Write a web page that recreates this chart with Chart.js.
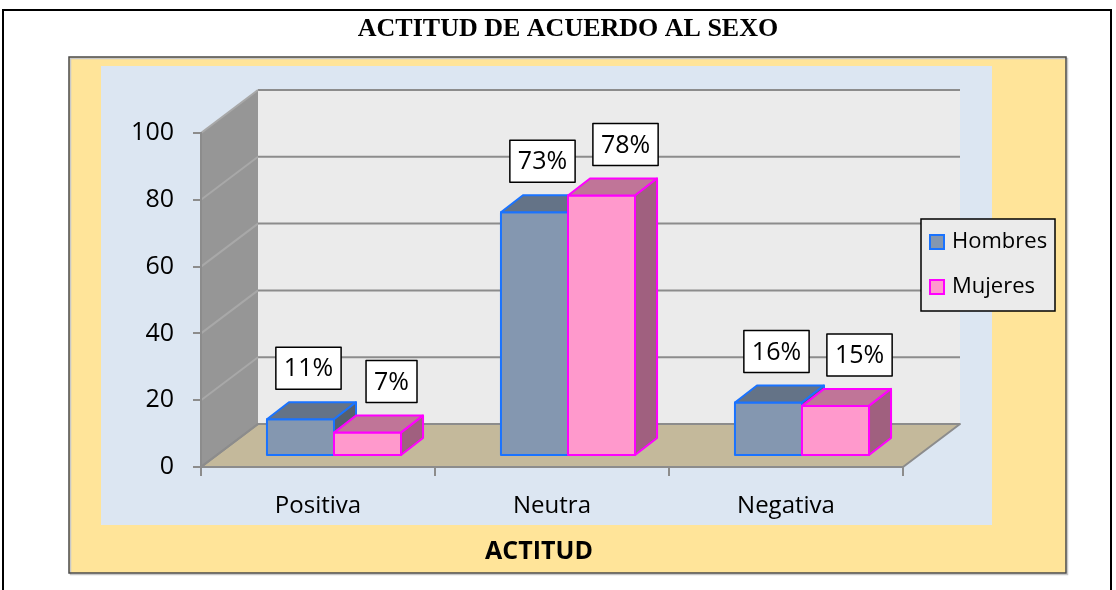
<!DOCTYPE html>
<html>
<head>
<meta charset="utf-8">
<title>Actitud de acuerdo al sexo</title>
<script src="https://cdn.jsdelivr.net/npm/chart.js@4/dist/chart.umd.min.js"></script>
<style>
    html, body { margin: 0; padding: 0; background: #ffffff; }
    canvas { display: block; }
</style>
</head>
<body>
<canvas id="actitudChart" width="1116" height="590"></canvas>
<script>
const categories = ['Positiva', 'Neutra', 'Negativa'];
const hombres = [11, 73, 16];
const mujeres = [7, 78, 15];
const seriesNames = ['Hombres', 'Mujeres'];
const yMin = 0;
const yMax = 100;
const yStep = 20;
const chartTitle = 'ACTITUD DE ACUERDO AL SEXO';
const axisTitle = 'ACTITUD';

const FONT = "'Open Sans', 'Noto Sans', sans-serif";

// 3D look: walls sit behind the front plane, bars sit in between
const WALL_DX = 57, WALL_DY = -43;
const BAR_SHIFT_X = 16, BAR_SHIFT_Y = -11;
const BAR_DX = 22, BAR_DY = -17;

const barStyles = [
    { front: '#8497b0', top: '#647387', side: '#56606f', edge: '#1a73ff', labelOffset: 8 },
    { front: '#ff99cc', top: '#c07598', side: '#a0607f', edge: '#ff00ff', labelOffset: 24 }
];

function poly(ctx, pts, fill, stroke, width) {
    ctx.beginPath();
    ctx.moveTo(pts[0][0], pts[0][1]);
    for (let i = 1; i < pts.length; i++) ctx.lineTo(pts[i][0], pts[i][1]);
    ctx.closePath();
    if (fill) {
        ctx.fillStyle = fill;
        ctx.fill();
    }
    if (stroke) {
        ctx.strokeStyle = stroke;
        ctx.lineWidth = width || 1;
        ctx.lineJoin = 'round';
        ctx.stroke();
    }
}

const backgroundPlugin = {
    id: 'background3d',
    beforeDraw(chart) {
        const ctx = chart.ctx;
        const area = chart.chartArea;
        const yScale = chart.scales.y;
        ctx.save();

        // page, outer frame, yellow chart area, blue plot area
        ctx.fillStyle = '#ffffff';
        ctx.fillRect(0, 0, chart.width, chart.height);
        ctx.strokeStyle = '#000000';
        ctx.lineWidth = 2;
        ctx.beginPath();
        ctx.moveTo(3, 600);
        ctx.lineTo(3, 10);
        ctx.lineTo(1111, 10);
        ctx.lineTo(1111, 600);
        ctx.stroke();

        ctx.fillStyle = '#ffe499';
        ctx.fillRect(69, 57, 997, 516);
        ctx.strokeStyle = '#c8c8c8';
        ctx.lineWidth = 1.5;
        ctx.strokeRect(70.5, 58.5, 997, 516);
        ctx.strokeStyle = '#4a4a4a';
        ctx.lineWidth = 1.5;
        ctx.strokeRect(69, 57, 997, 516);

        ctx.fillStyle = '#dce6f2';
        ctx.fillRect(101, 66, 891, 459);

        // title
        ctx.fillStyle = '#000000';
        ctx.font = "bold 26px 'Liberation Serif', 'Times New Roman', serif";
        ctx.textAlign = 'center';
        ctx.textBaseline = 'middle';
        ctx.fillText(chartTitle, 568, 29);

        const top = yScale.getPixelForValue(yMax);
        const bottom = yScale.getPixelForValue(yMin);

        // back wall
        ctx.fillStyle = '#ebebeb';
        ctx.fillRect(area.left + WALL_DX, top + WALL_DY, area.right - area.left, bottom - top);

        // side wall
        poly(ctx, [
            [area.left, top],
            [area.left + WALL_DX, top + WALL_DY],
            [area.left + WALL_DX, bottom + WALL_DY],
            [area.left, bottom]
        ], '#969696');

        // floor
        poly(ctx, [
            [area.left, bottom],
            [area.right, bottom],
            [area.right + WALL_DX, bottom + WALL_DY],
            [area.left + WALL_DX, bottom + WALL_DY]
        ], '#c4b99b', '#8c8c8c', 2);

        // grid lines on back wall and side wall
        yScale.ticks.forEach(t => {
            const y = yScale.getPixelForValue(t.value);
            ctx.strokeStyle = '#8c8c8c';
            ctx.lineWidth = 2;
            ctx.beginPath();
            ctx.moveTo(area.left + WALL_DX, y + WALL_DY);
            ctx.lineTo(area.right + WALL_DX, y + WALL_DY);
            ctx.stroke();
            ctx.strokeStyle = t.value === yMin ? '#8c8c8c' : '#a8a8a8';
            ctx.beginPath();
            ctx.moveTo(area.left, y);
            ctx.lineTo(area.left + WALL_DX, y + WALL_DY);
            ctx.stroke();
        });

        // x axis title
        ctx.fillStyle = '#000000';
        ctx.font = 'bold 25px ' + FONT;
        ctx.textAlign = 'center';
        ctx.textBaseline = 'middle';
        ctx.fillText(axisTitle, 539, 552);

        ctx.restore();
    }
};

const barsPlugin = {
    id: 'bars3d',
    afterDatasetsDraw(chart) {
        const ctx = chart.ctx;
        ctx.save();
        const labels = [];

        chart.data.datasets.forEach((ds, i) => {
            const style = barStyles[i];
            const meta = chart.getDatasetMeta(i);
            meta.data.forEach((bar, j) => {
                const left = bar.x - bar.width / 2 + BAR_SHIFT_X;
                const right = bar.x + bar.width / 2 + BAR_SHIFT_X;
                const top = bar.y + BAR_SHIFT_Y;
                const bottom = bar.base + BAR_SHIFT_Y;

                poly(ctx, [[left, top], [right, top], [right, bottom], [left, bottom]],
                    style.front, style.edge, 2);
                poly(ctx, [[left, top], [left + BAR_DX, top + BAR_DY],
                    [right + BAR_DX, top + BAR_DY], [right, top]],
                    style.top, style.edge, 2);
                poly(ctx, [[right, top], [right + BAR_DX, top + BAR_DY],
                    [right + BAR_DX, bottom + BAR_DY], [right, bottom]],
                    style.side, style.edge, 2);

                labels.push({
                    text: ds.data[j] + '%',
                    x: bar.x + BAR_SHIFT_X + style.labelOffset,
                    bottom: top - 30
                });
            });
        });

        // data labels in white boxes
        ctx.font = '25px ' + FONT;
        ctx.textAlign = 'center';
        ctx.textBaseline = 'middle';
        labels.forEach(l => {
            const w = ctx.measureText(l.text).width + 16;
            const h = 42;
            ctx.fillStyle = '#ffffff';
            ctx.fillRect(l.x - w / 2, l.bottom - h, w, h);
            ctx.strokeStyle = '#000000';
            ctx.lineWidth = 1.5;
            ctx.strokeRect(l.x - w / 2, l.bottom - h, w, h);
            ctx.fillStyle = '#000000';
            ctx.fillText(l.text, l.x, l.bottom - h / 2 + 1);
        });

        ctx.restore();
    },
    afterDraw(chart) {
        // legend
        const ctx = chart.ctx;
        ctx.save();
        ctx.fillStyle = '#ebebeb';
        ctx.fillRect(921, 219, 134, 92);
        ctx.strokeStyle = '#000000';
        ctx.lineWidth = 1.5;
        ctx.strokeRect(921, 219, 134, 92);
        ctx.font = '22px ' + FONT;
        ctx.textAlign = 'left';
        ctx.textBaseline = 'middle';
        chart.data.datasets.forEach((ds, i) => {
            const y = 242 + i * 45;
            ctx.fillStyle = barStyles[i].front;
            ctx.fillRect(930, y - 7, 14, 14);
            ctx.strokeStyle = barStyles[i].edge;
            ctx.lineWidth = 2;
            ctx.strokeRect(930, y - 7, 14, 14);
            ctx.fillStyle = '#000000';
            ctx.fillText(ds.label, 952, y);
        });
        ctx.restore();
    }
};

const ctx = document.getElementById('actitudChart').getContext('2d');
new Chart(ctx, {
    type: 'bar',
    data: {
        labels: categories,
        datasets: [
            { label: seriesNames[0], data: hombres, backgroundColor: 'rgba(0,0,0,0)', borderWidth: 0 },
            { label: seriesNames[1], data: mujeres, backgroundColor: 'rgba(0,0,0,0)', borderWidth: 0 }
        ]
    },
    options: {
        responsive: false,
        animation: false,
        events: [],
        layout: { padding: { left: 0, right: 213, top: 133, bottom: 0 } },
        datasets: { bar: { categoryPercentage: 0.573, barPercentage: 1 } },
        plugins: {
            legend: { display: false },
            title: { display: false },
            tooltip: { enabled: false }
        },
        scales: {
            x: {
                grid: { offset: true, drawOnChartArea: false, tickLength: 9, color: '#8c8c8c', lineWidth: 2 },
                border: { color: '#8c8c8c', width: 2 },
                ticks: { color: '#000000', font: { family: FONT, size: 24 }, padding: 16 },
                afterFit(scale) { scale.height = 123; }
            },
            y: {
                min: yMin,
                max: yMax,
                grid: { drawOnChartArea: false, tickLength: 8, color: '#8c8c8c', lineWidth: 2 },
                border: { color: '#8c8c8c', width: 2 },
                ticks: { stepSize: yStep, color: '#000000', font: { family: FONT, size: 25 }, padding: 19 },
                afterFit(scale) { scale.width = 201; }
            }
        }
    },
    plugins: [backgroundPlugin, barsPlugin]
});
</script>
</body>
</html>
